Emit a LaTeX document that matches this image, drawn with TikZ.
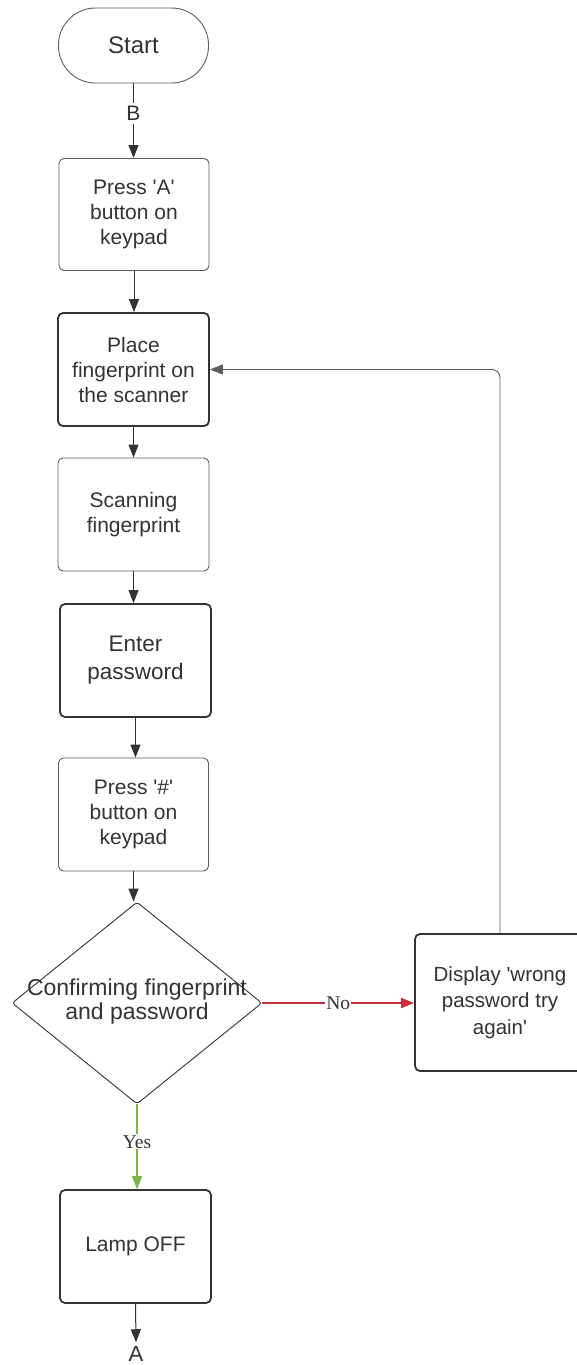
\documentclass[tikz,border=0pt]{standalone}
\usepackage{fontspec}
\setmainfont{Liberation Sans}
\newfontfamily\lserif{Liberation Serif}
\usetikzlibrary{arrows.meta,shapes.geometric}
\newcommand{\sq}{\textquotesingle}
\definecolor{txt}{HTML}{333333}
\definecolor{edge}{HTML}{333333}
\definecolor{thinedge}{HTML}{5E5E5E}
\definecolor{lred}{HTML}{C92D39}
\definecolor{lgreen}{HTML}{7AB648}
\begin{document}
\begin{tikzpicture}[x=1pt,y=-1pt,
  box/.style={rectangle, rounded corners=5pt, minimum width=151pt, minimum height=113pt, inner sep=0pt, align=center, text=txt, font=\fontsize{21}{25}\selectfont},
  thinbox/.style={box, draw=thinedge, line width=0.9pt},
  thickbox/.style={box, draw=edge, line width=1.8pt},
  arr/.style={draw=edge, line width=1pt, -{Triangle[length=13pt,width=10pt]}},
  lab/.style={fill=white, inner sep=3pt, text=txt},
  serlab/.style={fill=white, inner sep=1pt, text=txt, font=\lserif\fontsize{19.5}{22}\selectfont},
]
\useasboundingbox[fill=white] (0,0) rectangle (576,1365);

\node[draw=thinedge, line width=0.9pt, rounded corners=37pt, minimum width=150pt, minimum height=75pt, inner sep=0pt, font=\fontsize{24}{28}\selectfont, text=txt] (start) at (133.5,45.5) {Start};

\node[thinbox, minimum width=150pt, minimum height=112pt] (b1) at (134,214.5) {Press \sq A\sq\\button on\\keypad};
\node[thickbox] (b2) at (133.5,369.5) {Place\\fingerprint on\\the scanner};
\node[thinbox] (b3) at (133.5,514.5) {Scanning\\fingerprint};
\node[thickbox, font=\fontsize{22.5}{28}\selectfont] (b4) at (135.5,660.5) {Enter\\password};
\node[thinbox, minimum width=150pt] (b5) at (133.5,814.5) {Press \sq\#\sq\\button on\\keypad};

\node[diamond, draw=edge, line width=0.9pt, rounded corners=3pt, minimum width=250pt, minimum height=202pt, inner sep=0pt] (dia) at (137,1003) {};
\node[text=txt, align=center, inner sep=0pt, font=\fontsize{23}{23.5}\selectfont] (diatext) at (137,1001.5) {Confirming fingerprint\\and password};

\node[thickbox, minimum width=170pt, minimum height=137pt, font=\fontsize{20.5}{26.5}\selectfont] (b6) at (500,1002.5) {Display \sq wrong\\password try\\again\sq};

\node[thickbox] (b7) at (135.5,1246.5) {Lamp OFF};

\node[text=txt, inner sep=0pt, font=\fontsize{22}{26}\selectfont] (A) at (136,1354) {A};

\draw[arr] (start.south) -- node[pos=0.4, lab, font=\fontsize{21}{25}\selectfont] {B} (start.south |- b1.north);
\draw[arr] (b1.south) -- (b1.south |- b2.north);
\draw[arr] (b2.south) -- (b2.south |- b3.north);
\draw[arr] (b3.south) -- (b3.south |- b4.north);
\draw[arr] (b4.south) -- (b4.south |- b5.north);
\draw[arr] (b5.south) -- (b5.south |- dia.north);
\draw[arr, draw=lred, line width=1.8pt] (dia.east) -- node[pos=0.5, serlab] {No} (dia.east -| b6.west);
\draw[arr, draw=lgreen, line width=1.8pt] (dia.south) -- node[pos=0.44, serlab] {Yes} (dia.south |- b7.north);
\draw[arr, draw=thinedge, line width=0.9pt, rounded corners=8pt] (b6.north) |- (b2.east);
\draw[arr] (b7.south) -- ([yshift=4pt]A.north);
\end{tikzpicture}
\end{document}
